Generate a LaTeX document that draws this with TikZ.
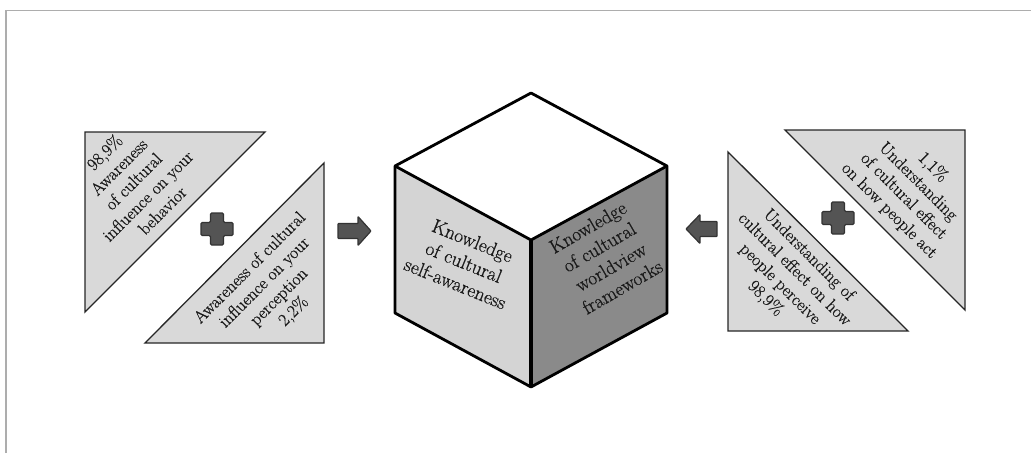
\documentclass[tikz,border=0pt]{standalone}
\usepackage{fontspec}
\newfontfamily\lblfont[FakeBold=0.7]{Latin Modern Roman}
\begin{document}
\begin{tikzpicture}[x=1pt,y=-1pt,
  tri/.style={draw=black!85, line width=1.3pt, fill=black!15, line join=miter},
  lbl/.style={align=center, font=\lblfont\fontsize{17.5}{20.5}\selectfont, inner sep=0pt, text=black!90},
  cubelbl/.style={align=center, font=\lblfont\fontsize{19.5}{23}\selectfont, inner sep=0pt, text=black!90},
  blk/.style={draw=black!80, line width=1.2pt, fill=black!67, rounded corners=1.2pt, line join=round},
  face/.style={draw=black, line width=2.8pt, line join=round},
  frame/.style={draw=black!32, line width=1.2pt}]
\useasboundingbox (0,0) rectangle (1031,453);
% frame
\draw[frame] (6,453) -- (6,10.5) -- (1031,10.5);

% left triangles
\draw[tri] (85,132) -- (265,132) -- (85,312) -- cycle;
\draw[tri] (324,163) -- (324,343) -- (145,343) -- cycle;
\node[lbl, rotate=45] (t1) at (133,181) {98,9\%\\Awareness\\of cultural\\influence on your\\behavior};
\node[lbl, rotate=45] (t2) at (272,290) {Awareness of cultural\\influence on your\\perception\\2,2\%};

% right triangles
\draw[tri] (728,152) -- (908,331) -- (728,331) -- cycle;
\draw[tri] (785,130) -- (965,130) -- (965,310) -- cycle;
\node[lbl, rotate=-45] (t3) at (787,277) {Understanding of\\cultural effect on how\\people perceive\\98,9\%};
\node[lbl, rotate=-45] (t4) at (911,189) {1,1\%\\Understanding\\of cultural effect\\on how people act};

% plus signs
\foreach \cx/\cy in {217/229, 838/218}{
  \draw[blk] (\cx-6.5,\cy-16) -- (\cx+6.5,\cy-16) -- (\cx+6.5,\cy-6.5) -- (\cx+16,\cy-6.5)
    -- (\cx+16,\cy+6.5) -- (\cx+6.5,\cy+6.5) -- (\cx+6.5,\cy+16) -- (\cx-6.5,\cy+16)
    -- (\cx-6.5,\cy+6.5) -- (\cx-16,\cy+6.5) -- (\cx-16,\cy-6.5) -- (\cx-6.5,\cy-6.5) -- cycle;
}

% block arrows
\draw[blk, rounded corners=0.6pt] (338,223.5) -- (358,223.5) -- (358,216.5) -- (371,231) -- (358,245.5) -- (358,238.5) -- (338,238.5) -- cycle;
\draw[blk, rounded corners=0.6pt] (717,221.5) -- (700,221.5) -- (700,214.5) -- (686,229) -- (700,243.5) -- (700,236.5) -- (717,236.5) -- cycle;

% cube
\coordinate (T) at (531,93);
\coordinate (L) at (395,166);
\coordinate (R) at (667,166);
\coordinate (F) at (531,240);
\coordinate (BL) at (395,313);
\coordinate (BF) at (531,387);
\coordinate (BR) at (667,313);
\fill[white] (T) -- (R) -- (F) -- (L) -- cycle;
\fill[black!17] (L) -- (F) -- (BF) -- (BL) -- cycle;
\fill[black!46] (F) -- (R) -- (BR) -- (BF) -- cycle;
\draw[face] (T) -- (R) -- (BR) -- (BF) -- (BL) -- (L) -- cycle;
\draw[face] (L) -- (F) -- (R);
\draw[face, line width=3.4pt] (F) -- (BF);
\node[cubelbl, rotate=-22] (c1) at (464,262) {Knowledge\\of cultural\\self-awareness};
\node[cubelbl, rotate=30] (c2) at (605,257) {Knowledge\\of cultural\\worldview\\frameworks};
\end{tikzpicture}
\end{document}
